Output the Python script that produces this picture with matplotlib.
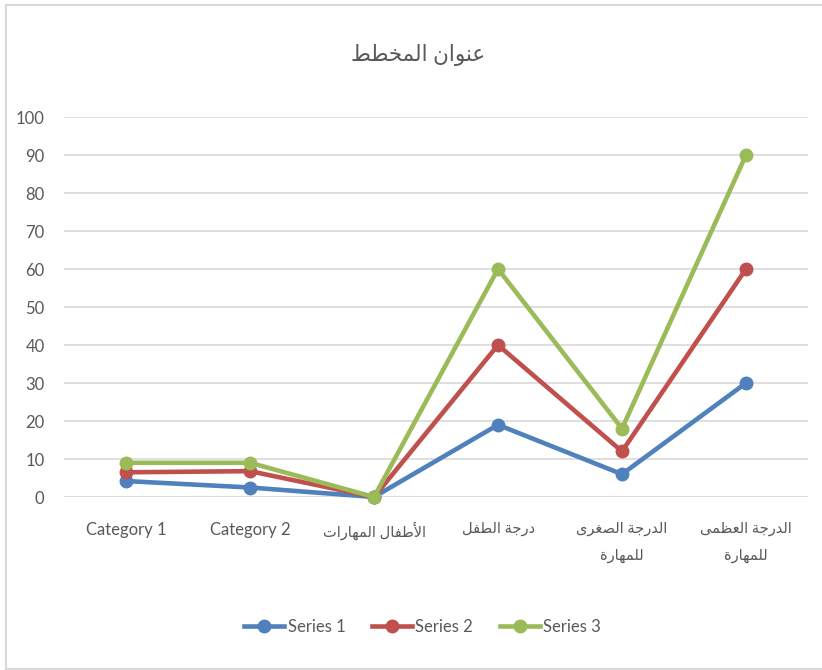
import matplotlib
matplotlib.use('Agg')
import matplotlib.pyplot as plt
from matplotlib.lines import Line2D

# chart data
categories = ['Category 1', 'Category 2', 'الأطفال المهارات', 'درجة الطفل',
              'الدرجة الصغرى\nللمهارة', 'الدرجة العظمى\nللمهارة']
series_names = ['Series 1', 'Series 2', 'Series 3']
series1 = [4.2, 2.5, 0, 19, 6, 30]
series2 = [6.5, 6.8, 0, 40, 12, 60]
series3 = [9, 9, 0, 60, 18, 90]
title = 'عنوان المخطط'
yticks = [0, 10, 20, 30, 40, 50, 60, 70, 80, 90, 100]

colors = ['#4F81BD', '#C0504D', '#9BBB59']
text_color = '#595959'

# --- tiny arabic shaper (matplotlib has no shaping / bidi) ---
# letter -> isolated presentation form, and whether it joins to the next letter
forms = {
    'ا': (0xFE8D, False), 'أ': (0xFE83, False), 'ة': (0xFE93, False),
    'د': (0xFEA9, False), 'ر': (0xFEAD, False), 'و': (0xFEED, False),
    'ى': (0xFEEF, False),
    'ت': (0xFE95, True), 'ج': (0xFE9D, True), 'خ': (0xFEA5, True),
    'ص': (0xFEB9, True), 'ط': (0xFEC1, True), 'ظ': (0xFEC5, True),
    'ع': (0xFEC9, True), 'غ': (0xFECD, True), 'ف': (0xFED1, True),
    'ل': (0xFEDD, True), 'م': (0xFEE1, True), 'ن': (0xFEE5, True),
    'ه': (0xFEE9, True),
}
lam_alef = {'ا': 0xFEFB, 'أ': 0xFEF7}


def shape_line(s):
    if not any(c in forms for c in s):
        return s
    # merge lam-alef into one token
    toks = []
    i = 0
    while i < len(s):
        if s[i] == 'ل' and i + 1 < len(s) and s[i + 1] in lam_alef:
            toks.append(('LA', s[i + 1]))
            i += 2
        else:
            toks.append(('C', s[i]))
            i += 1

    def joins_next(t):
        if t[0] == 'LA':
            return False
        return t[1] in forms and forms[t[1]][1]

    def is_letter(t):
        return t[0] == 'LA' or t[1] in forms

    out = []
    for k, t in enumerate(toks):
        prev_j = k > 0 and joins_next(toks[k - 1])
        nxt = toks[k + 1] if k + 1 < len(toks) else None
        if t[0] == 'LA':
            out.append(chr(lam_alef[t[1]] + (1 if prev_j else 0)))
            continue
        c = t[1]
        if c not in forms:
            out.append(c)
            continue
        base, dual = forms[c]
        next_j = dual and nxt is not None and is_letter(nxt)
        if prev_j and next_j:
            off = 3
        elif next_j:
            off = 2
        elif prev_j:
            off = 1
        else:
            off = 0
        out.append(chr(base + off))
    return ''.join(reversed(out))


def shape(s):
    return '\n'.join(shape_line(p) for p in s.split('\n'))


def is_arabic(s):
    return any(c in forms for c in s)


# narrower latin face, DejaVu for the arabic glyphs
plt.rcParams['font.family'] = ['Lato', 'DejaVu Sans']

fig = plt.figure(figsize=(8.22, 6.70), dpi=100)
ax = fig.add_axes([64 / 822, 1 - 497 / 670, 744 / 822, 380 / 670])

x = list(range(len(categories)))
for vals, name, col in zip([series1, series2, series3], series_names, colors):
    ax.plot(x, vals, color=col, lw=3.3, marker='o', ms=9, solid_capstyle='round',
            label=name, zorder=3, clip_on=False)

ax.set_xlim(-0.5, len(categories) - 0.5)
ax.set_ylim(0, 100)
ax.set_yticks(yticks)
ax.set_xticks(x)
labs = ax.set_xticklabels([shape(c) for c in categories], fontsize=12, color=text_color,
                          va='top')
for lab, c in zip(labs, categories):
    if is_arabic(c):
        lab.set_fontsize(10.5)
        lab.set_linespacing(2.1)
ax.tick_params(axis='y', labelsize=12, labelcolor=text_color, length=0, pad=14)
ax.tick_params(axis='x', length=0, pad=18)
ax.grid(axis='y', color='#D9D9D9', lw=1.2)
ax.set_axisbelow(True)
for sp in ax.spines.values():
    sp.set_visible(False)

fig.text(0.508, 1 - 55 / 670, shape(title), ha='center', va='center',
         fontsize=15.5, color=text_color)

handles = [Line2D([], [], color=c, lw=3.3, marker='o', ms=9) for c in colors]
fig.legend(handles, series_names, loc='center', bbox_to_anchor=(0.514, 1 - 627 / 670),
           ncol=3, frameon=False, fontsize=12,
           labelcolor=text_color, handlelength=2.4, handletextpad=0.2, columnspacing=1.6)

# outer chart border
fig.add_artist(Line2D([6 / 822, 6 / 822], [1 - 669 / 670, 1 - 5 / 670],
                      color='#D9D9D9', lw=1.5))
fig.add_artist(Line2D([6 / 822, 1], [1 - 5 / 670, 1 - 5 / 670], color='#D9D9D9', lw=1.5))
fig.add_artist(Line2D([6 / 822, 1], [1 - 669 / 670, 1 - 669 / 670], color='#D9D9D9', lw=1.5))

fig.savefig('out.png', dpi=100, facecolor='white')
